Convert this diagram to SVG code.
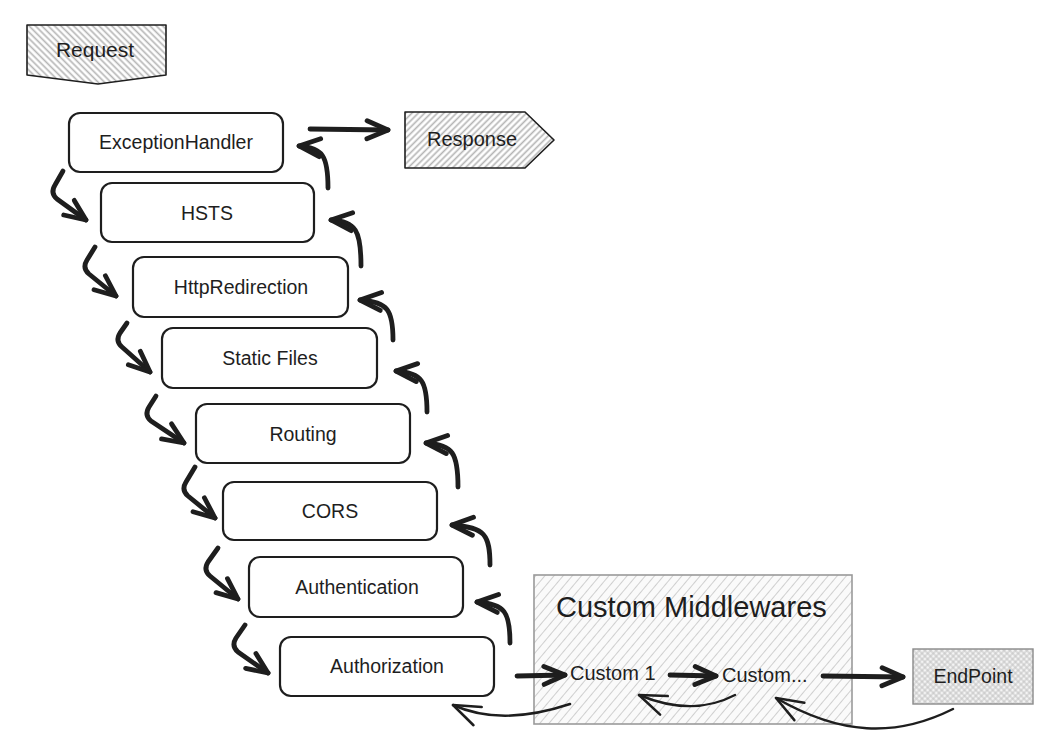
<svg xmlns="http://www.w3.org/2000/svg" width="1046" height="755" viewBox="0 0 1046 755">
<defs>
<style>
.node{fill:#fff;stroke:#1e1e1e;stroke-width:2.2}
.lbl{font-family:"Liberation Sans",Arial,sans-serif;font-size:19.5px;fill:#1e1e1e;text-anchor:middle}
.lbls{font-family:"Liberation Sans",Arial,sans-serif;font-size:20px;fill:#1e1e1e}
.thick{fill:none;stroke:#1e1e1e;stroke-width:4.8;stroke-linecap:round;stroke-linejoin:round}
.thin{fill:none;stroke:#1e1e1e;stroke-width:2.5;stroke-linecap:round;stroke-linejoin:round}
</style>
<pattern id="hBack" width="4.5" height="4.5" patternUnits="userSpaceOnUse" patternTransform="rotate(-45)">
<rect width="4.5" height="4.5" fill="#fff"/>
<line x1="2.25" y1="0" x2="2.25" y2="4.5" stroke="#b4b4b4" stroke-width="1.6"/>
</pattern>
<pattern id="hFwd" width="4.5" height="4.5" patternUnits="userSpaceOnUse" patternTransform="rotate(45)">
<rect width="4.5" height="4.5" fill="#fff"/>
<line x1="2.25" y1="0" x2="2.25" y2="4.5" stroke="#b4b4b4" stroke-width="1.6"/>
</pattern>
<pattern id="hLight" width="7" height="7" patternUnits="userSpaceOnUse" patternTransform="rotate(40)">
<rect width="7" height="7" fill="#fafafa"/>
<line x1="3.5" y1="0" x2="3.5" y2="7" stroke="#cfcfcf" stroke-width="1"/>
</pattern>
<pattern id="hCross" width="4" height="4" patternUnits="userSpaceOnUse" patternTransform="rotate(45)">
<rect width="4" height="4" fill="#f4f4f4"/>
<line x1="2" y1="0" x2="2" y2="4" stroke="#bdbdbd" stroke-width="0.9"/>
<line x1="0" y1="2" x2="4" y2="2" stroke="#bdbdbd" stroke-width="0.9"/>
</pattern>
<marker id="ah" markerUnits="userSpaceOnUse" markerWidth="40" markerHeight="40" viewBox="-30 -20 40 40" refX="0" refY="0" orient="auto" overflow="visible">
<path d="M-21,-9 L0,0 L-21,9" fill="none" stroke="#1e1e1e" stroke-width="4.8" stroke-linecap="round" stroke-linejoin="round"/>
</marker>
<marker id="ahThin" markerUnits="userSpaceOnUse" markerWidth="40" markerHeight="40" viewBox="-35 -20 40 40" refX="0" refY="0" orient="auto" overflow="visible">
<path d="M-27,-10 L0,0 L-27,10" fill="none" stroke="#1e1e1e" stroke-width="2.5" stroke-linecap="round" stroke-linejoin="round"/>
</marker>
</defs>

<rect width="1046" height="755" fill="#fff"/>

<g id="request">
<path d="M27,25 L166,25 L166,75 L98,84 L27,75 Z" fill="url(#hBack)" stroke="#1e1e1e" stroke-width="1.6" stroke-linejoin="round"/>
<text x="95" y="57" class="lbl" style="font-size:21px">Request</text>
</g>

<g id="response">
<path d="M405,112 L525,112 L554,140 L525,168 L405,168 Z" fill="url(#hFwd)" stroke="#1e1e1e" stroke-width="1.6" stroke-linejoin="round"/>
<text x="472" y="146" class="lbl" style="font-size:20px">Response</text>
</g>

<g id="exceptionhandler">
<rect x="69" y="113" width="214" height="59" rx="11" class="node"/>
<text x="176" y="149" class="lbl">ExceptionHandler</text>
</g>
<g id="hsts">
<rect x="101" y="183" width="213" height="59" rx="11" class="node"/>
<text x="207" y="220" class="lbl">HSTS</text>
</g>
<g id="httpredirection">
<rect x="133" y="257" width="215" height="60" rx="11" class="node"/>
<text x="241" y="294" class="lbl">HttpRedirection</text>
</g>
<g id="staticfiles">
<rect x="162" y="328" width="215" height="60" rx="11" class="node"/>
<text x="270" y="365" class="lbl">Static Files</text>
</g>
<g id="routing">
<rect x="196" y="404" width="214" height="59" rx="11" class="node"/>
<text x="303" y="441" class="lbl">Routing</text>
</g>
<g id="cors">
<rect x="223" y="482" width="214" height="58" rx="11" class="node"/>
<text x="330" y="518" class="lbl">CORS</text>
</g>
<g id="authentication">
<rect x="249" y="557" width="214" height="60" rx="11" class="node"/>
<text x="357" y="594" class="lbl">Authentication</text>
</g>
<g id="authorization">
<rect x="280" y="637" width="214" height="59" rx="11" class="node"/>
<text x="387" y="673" class="lbl">Authorization</text>
</g>

<g id="custom-middlewares">
<rect x="534" y="575" width="318" height="149" fill="url(#hLight)" stroke="#9a9a9a" stroke-width="1.6"/>
<text x="556" y="617" class="lbls" style="font-size:29px">Custom Middlewares</text>
</g>
<g id="custom1">
<text x="570" y="680" class="lbls">Custom 1</text>
</g>
<g id="custom-more">
<text x="722" y="682" class="lbls">Custom...</text>
</g>

<g id="endpoint">
<rect x="913" y="649" width="120" height="55" fill="url(#hCross)" stroke="#8a8a8a" stroke-width="1.4"/>
<text x="973" y="683" class="lbl" style="font-size:19.5px">EndPoint</text>
</g>

<g id="connectors">
<path class="thick" marker-end="url(#ah)" d="M63,171 L55,185 Q50,193 57,199 L86,220"/>
<path class="thick" marker-end="url(#ah)" d="M95,247 L87,260 Q82,268 89,274 L116,296"/>
<path class="thick" marker-end="url(#ah)" d="M127,323 L120,333 Q115,341 122,347 L150,372"/>
<path class="thick" marker-end="url(#ah)" d="M156,396 L149,407 Q144,415 151,421 L184,443"/>
<path class="thick" marker-end="url(#ah)" d="M195,467 L186,482 Q181,490 188,496 L215,518"/>
<path class="thick" marker-end="url(#ah)" d="M218,548 L208,562 Q203,570 210,576 L238,599"/>
<path class="thick" marker-end="url(#ah)" d="M245,625 L236,638 Q231,646 238,652 L268,673"/>
<path class="thick" marker-end="url(#ah)" d="M328,188 C328,156 323,148 299,146"/>
<path class="thick" marker-end="url(#ah)" d="M361,266 C361,230 356,222 331,220"/>
<path class="thick" marker-end="url(#ah)" d="M393,340 C393,310 388,302 360,300"/>
<path class="thick" marker-end="url(#ah)" d="M427,412 C427,381 422,373 396,371"/>
<path class="thick" marker-end="url(#ah)" d="M458,487 C458,453 453,445 426,443"/>
<path class="thick" marker-end="url(#ah)" d="M490,565 C490,535 485,527 452,525"/>
<path class="thick" marker-end="url(#ah)" d="M510,643 C510,612 505,604 477,602"/>
<path class="thick" marker-end="url(#ah)" d="M310,129 L388,130"/>
<path class="thick" marker-end="url(#ah)" d="M517,676 L565,675"/>
<path class="thick" marker-end="url(#ah)" d="M670,675 L716,676"/>
<path class="thick" marker-end="url(#ah)" d="M823,676 L903,677"/>
<path class="thin" marker-end="url(#ahThin)" d="M953,709 C895,738 840,735 776,698"/>
<path class="thin" marker-end="url(#ahThin)" d="M735,695 C710,708 680,712 639,695"/>
<path class="thin" marker-end="url(#ahThin)" d="M570,704 C540,714 495,724 453,705"/>
</g>
</svg>
